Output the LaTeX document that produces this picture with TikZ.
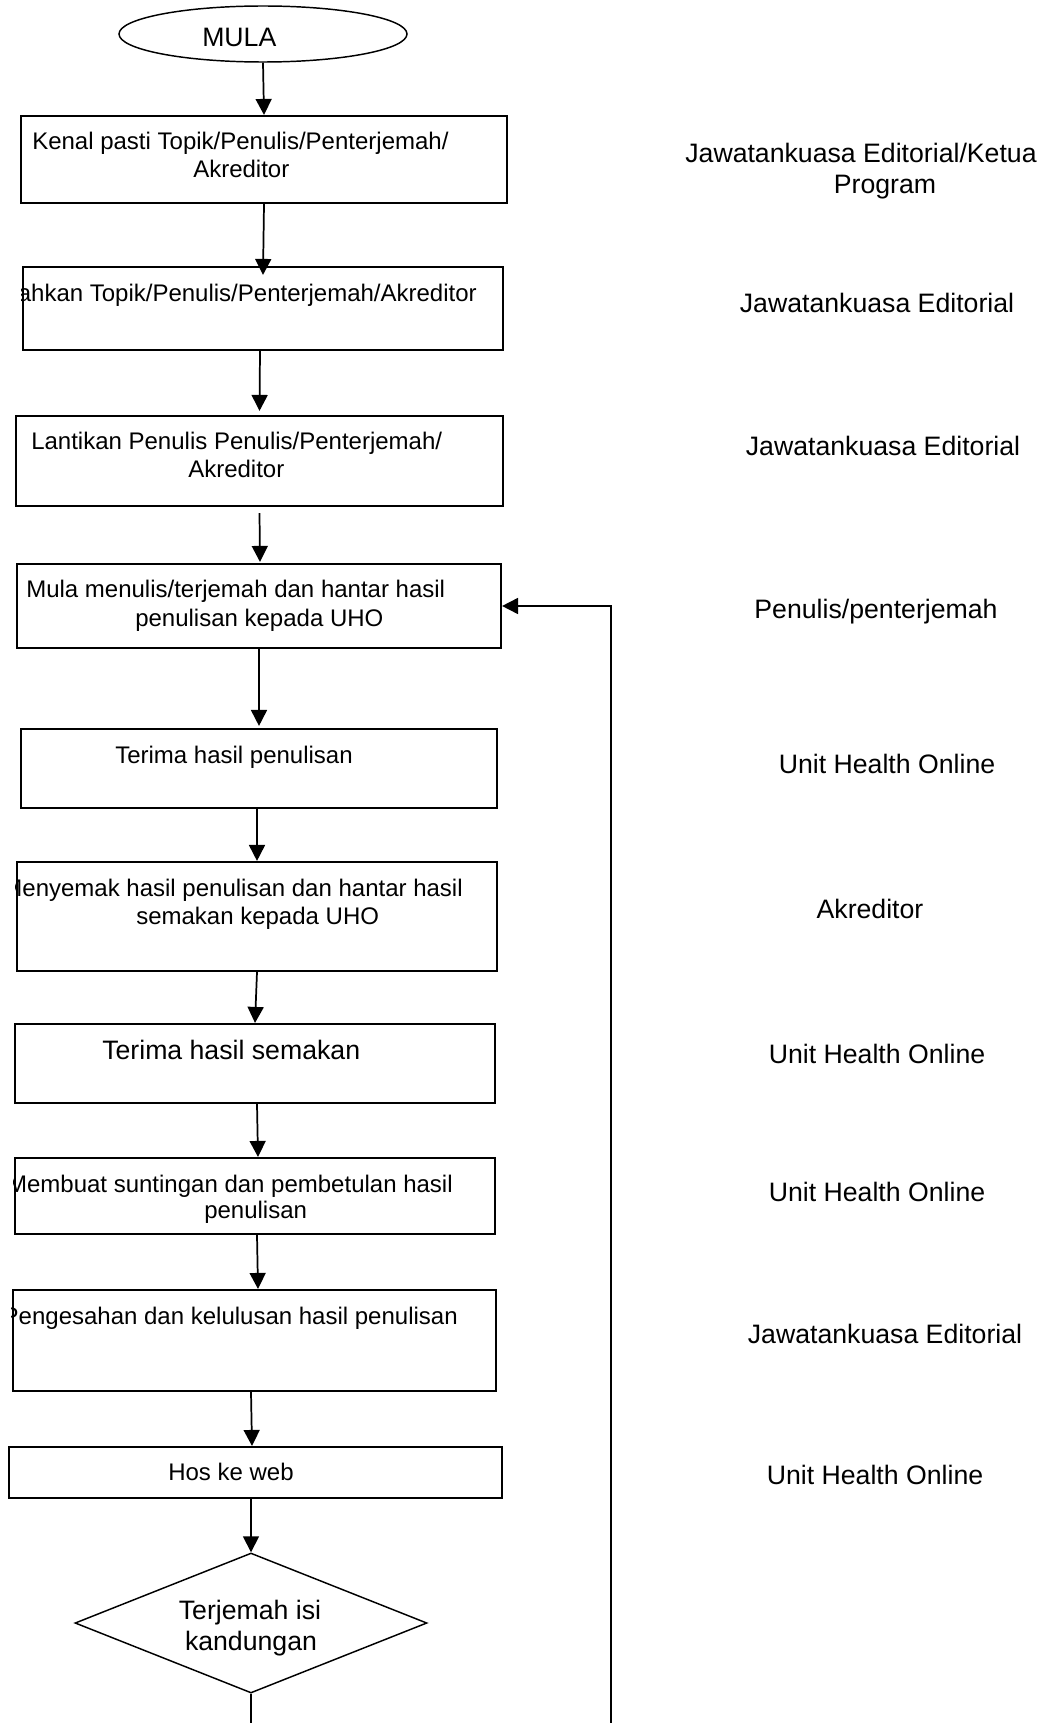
\documentclass[tikz,border=0pt]{standalone}
\usepackage{fontspec}
\setmainfont{Liberation Sans}
\usetikzlibrary{arrows.meta,shapes.geometric,fit,calc}

\begin{document}
\begin{tikzpicture}[x=0.75pt, y=-0.75pt,
  flowbox/.style={draw, line width=1.6pt, inner sep=0pt, rectangle},
  conn/.style={line width=1.3pt, -{Triangle[length=12pt,width=12pt]}},
  txt/.style={inner sep=0pt, font=\fontsize{18pt}{21pt}\selectfont},
  bigtxt/.style={inner sep=0pt, font=\fontsize{20pt}{23pt}\selectfont},
]
% page
\fill[white, use as bounding box] (0,0) rectangle (1042,1723);

% start terminal
\node[draw, ellipse, line width=1.1pt, inner sep=0pt, minimum width=216pt, minimum height=42pt] (start) at (263,34) {};
\node[bigtxt, anchor=base west] (tstart) at (202,47) {MULA};

% process boxes
\node[flowbox, fit={(21,116) (507,203)}] (b1) {};
\node[flowbox, fit={(23,267) (503,350)}] (b2) {};
\node[flowbox, fit={(16,416) (503,506)}] (b3) {};
\node[flowbox, fit={(17,564) (501,648)}] (b4) {};
\node[flowbox, fit={(21,729) (497,808)}] (b5) {};
\node[flowbox, fit={(17,862) (497,971)}] (b6) {};
\node[flowbox, fit={(15,1024) (495,1103)}] (b7) {};
\node[flowbox, fit={(15,1158) (495,1234)}] (b8) {};
\node[flowbox, fit={(13,1290) (496,1391)}] (b9) {};
\node[flowbox, fit={(9,1447) (502,1498)}] (b10) {};

% decision
\node[draw, diamond, line width=1.1pt, inner sep=0pt, minimum width=264pt, minimum height=105pt] (dec) at (251,1623) {};

% box texts
\node[txt, anchor=base west] (t1a) at (32,150) {Kenal pasti Topik/Penulis/Penterjemah/};
\node[txt, anchor=base west] (t1b) at (193,177) {Akreditor};
\begin{scope}
  \clip (b2.north west) rectangle (b2.south east);
  \node[txt, anchor=base east] (t2) at (477,301) {Sahkan Topik/Penulis/Penterjemah/Akreditor};
\end{scope}
\node[txt, anchor=base west] (t3a) at (31,449) {Lantikan Penulis Penulis/Penterjemah/};
\node[txt, anchor=base west] (t3b) at (188,477) {Akreditor};
\node[txt, anchor=base west] (t4a) at (26,597) {Mula menulis/terjemah dan hantar hasil};
\node[txt, anchor=base west] (t4b) at (135,626) {penulisan kepada UHO};
\node[txt, anchor=base west] (t5) at (115,763) {Terima hasil penulisan};
\begin{scope}
  \clip (b6.north west) rectangle (b6.south east);
  \node[txt, anchor=base east] (t6a) at (463,896) {Menyemak hasil penulisan dan hantar hasil};
\end{scope}
\node[txt, anchor=base west] (t6b) at (136,924) {semakan kepada UHO};
\node[bigtxt, anchor=base west] (t7) at (102,1059) {Terima hasil semakan};
\begin{scope}
  \clip (b8.north west) rectangle (b8.south east);
  \node[txt, anchor=base east] (t8a) at (453,1192) {Membuat suntingan dan pembetulan hasil};
\end{scope}
\node[txt, anchor=base west] (t8b) at (204,1218) {penulisan};
\begin{scope}
  \clip (b9.north west) rectangle (b9.south east);
  \node[txt, anchor=base east] (t9) at (458,1324) {Pengesahan dan kelulusan hasil penulisan};
\end{scope}
\node[txt, anchor=base west] (t10) at (168,1480) {Hos ke web};
\node[bigtxt, anchor=base] (tdec1) at (250,1619) {Terjemah isi};
\node[bigtxt, anchor=base] (tdec2) at (251,1650) {kandungan};

% responsibility column
\node[bigtxt, anchor=base] (r1a) at (861,163) {Jawatankuasa Editorial/Ketua};
\node[bigtxt, anchor=base] (r1b) at (885,193) {Program};
\node[bigtxt, anchor=base] (r2) at (877,312) {Jawatankuasa Editorial};
\node[bigtxt, anchor=base] (r3) at (883,455) {Jawatankuasa Editorial};
\node[bigtxt, anchor=base] (r4) at (876,618) {Penulis/penterjemah};
\node[bigtxt, anchor=base] (r5) at (887,773) {Unit Health Online};
\node[bigtxt, anchor=base] (r6) at (870,918) {Akreditor};
\node[bigtxt, anchor=base] (r7) at (877,1063) {Unit Health Online};
\node[bigtxt, anchor=base] (r8) at (877,1201) {Unit Health Online};
\node[bigtxt, anchor=base] (r9) at (885,1343) {Jawatankuasa Editorial};
\node[bigtxt, anchor=base] (r10) at (875,1484) {Unit Health Online};

% flow connectors
\draw[conn] (start.south) -- (b1.north);
\draw[conn] (b1.south) -- ($(b2.north)+(0,9)$);
\draw[conn] ($(b2.south)+(-3,0)$) -- ($(b3.north)+(0,-4)$);
\draw[conn] ($(b3.south)+(0,6)$) -- ($(b4.north)+(1,-1)$);
\draw[conn] (b4.south) -- ($(b5.north)+(0,-2)$);
\draw[conn] ($(b5.south)+(-2,0)$) -- (b6.north);
\draw[conn] (b6.south) -- (b7.north);
\draw[conn] ($(b7.south)+(2,0)$) -- ($(b8.north)+(3,0)$);
\draw[conn] ($(b8.south)+(2,0)$) -- ($(b9.north)+(3.5,0)$);
\draw[conn] ($(b9.south)+(-3.5,0)$) -- ($(b10.north)+(-3.5,0)$);
\draw[conn] ($(b10.south)+(-4.5,0)$) -- (dec.north);

% return loop back to the writing step
\begin{scope}
  \clip (0,0) rectangle (1042,1723);
  \coordinate (loopL) at ($(dec.south)+(0,60)$);
  \coordinate (loopR) at (611,1753);
  \draw[conn] (dec.south) -- (loopL) -- (loopR) |- (b4.east);
\end{scope}
\end{tikzpicture}
\end{document}
